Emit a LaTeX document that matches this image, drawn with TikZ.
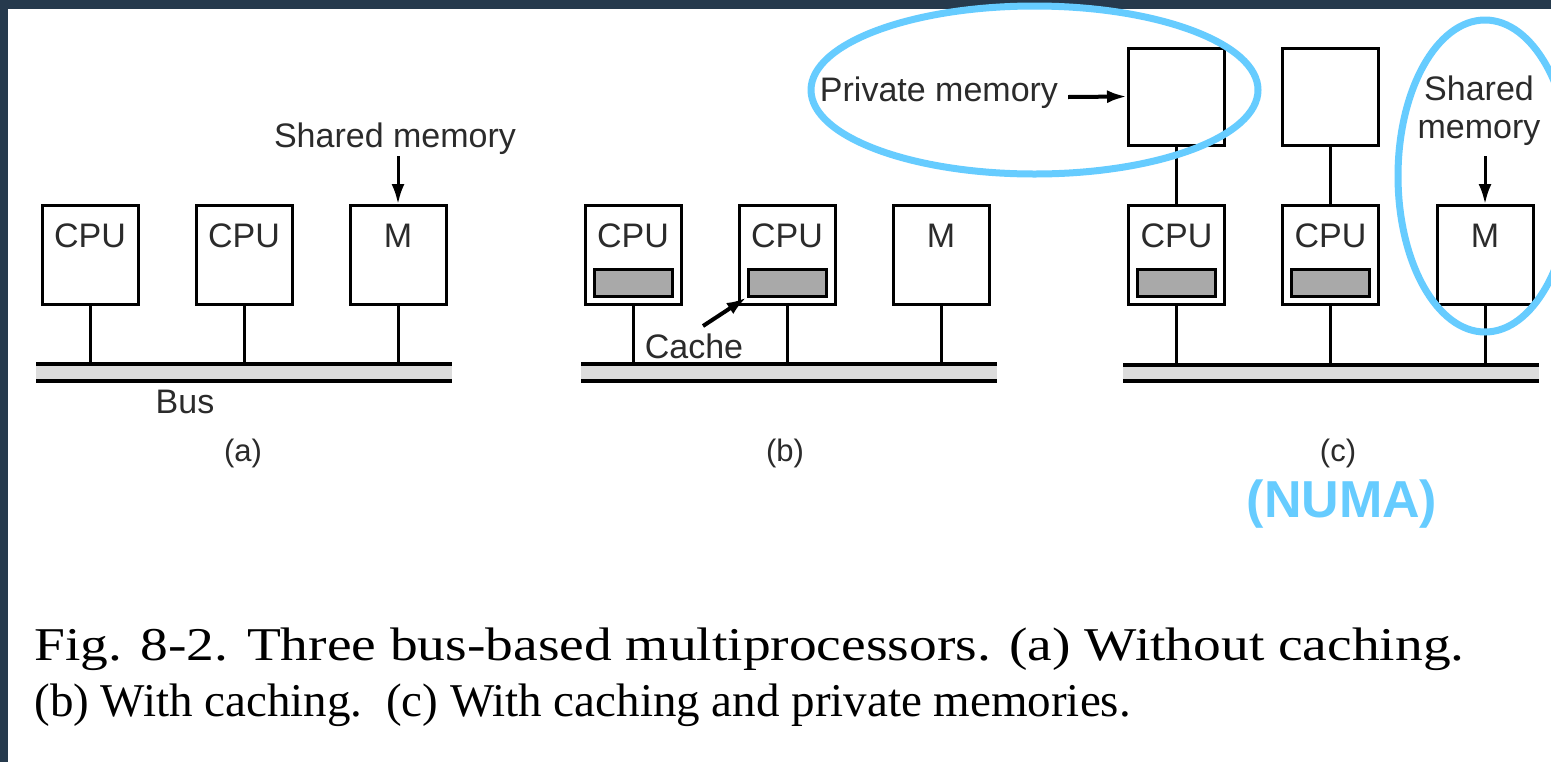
\documentclass[tikz,border=0pt]{standalone}
\usepackage{fontspec}
\setmainfont{Liberation Serif}
\setsansfont{Liberation Sans}
\usetikzlibrary{arrows.meta}

\definecolor{framebg}{HTML}{263A4D}
\definecolor{hilite}{HTML}{66CCFF}
\definecolor{ink}{HTML}{2B2B2B}
\definecolor{busfill}{HTML}{DCDCDC}
\definecolor{cachefill}{HTML}{A9A9A9}

\begin{document}
\begin{tikzpicture}[x=0.5pt,y=-0.5pt,
  unit/.style={draw=black, line width=1.5pt, fill=white, inner sep=0pt,
    minimum width=48pt, minimum height=49.5pt},
  privbox/.style={unit, minimum height=48.5pt},
  cachebox/.style={draw=black, line width=1.5pt, fill=cachefill, inner sep=0pt,
    minimum width=39pt, minimum height=13.5pt},
  lbl/.style={font=\sffamily\fontsize{17}{19}\selectfont, text=ink, inner sep=0pt},
  sublbl/.style={font=\sffamily\fontsize{15.5}{18}\selectfont, text=ink, inner sep=0pt, anchor=base},
  wire/.style={line width=1.5pt},
  busline/.style={line width=2pt},
  pointer/.style={line width=1.5pt, -{Latex[length=10pt,width=6.5pt]}},
  capt/.style={font=\fontsize{23.5}{30}\selectfont, text=black, inner sep=0pt, anchor=base west},
  ring/.style={draw=hilite, line width=3.5pt}
]
% page frame: dark edge at top and left, white sheet
\useasboundingbox (0,0) rectangle (1551,762);
\fill[framebg] (0,0) rectangle (1551,762);
\fill[white] (8,9) rectangle (1551,762);

% ---------- (a) without caching ----------
\fill[busfill] (36,364) rectangle (452,381);
\draw[busline] (36,364) -- (452,364);
\draw[busline] (36,381) -- (452,381);
\coordinate (busa) at (36,364);

\node[unit] (cpua1) at (90,255) {};
\node[unit] (cpua2) at (244,255) {};
\node[unit] (mema)  at (398,255) {};
\node[lbl, anchor=base] (cpua1t) at (90,247) {CPU};
\node[lbl, anchor=base] (cpua2t) at (244,247) {CPU};
\node[lbl, anchor=base] (memat)  at (398,247) {M};
\foreach \n in {cpua1,cpua2,mema}
  \draw[wire] (\n.south) -- (\n.south |- busa);

\node[lbl, anchor=base] (sharedA) at (395,147) {Shared memory};
\coordinate (sharedAtail) at (398,156);
\draw[pointer] (sharedAtail) -- (mema.north);
\node[lbl, anchor=base] (buslbl) at (185,413) {Bus};
\node[sublbl] (suba) at (243,461) {(a)};

% ---------- (b) with caching ----------
\fill[busfill] (581,364) rectangle (997,381);
\draw[busline] (581,364) -- (997,364);
\draw[busline] (581,381) -- (997,381);
\coordinate (busb) at (581,364);

\node[unit] (cpub1) at (633,255) {};
\node[unit] (cpub2) at (787,255) {};
\node[unit] (memb)  at (941,255) {};
\node[cachebox] (cacheb1) at (633,282.5) {};
\node[cachebox] (cacheb2) at (787,282.5) {};
\node[lbl, anchor=base] (cpub1t) at (633,247) {CPU};
\node[lbl, anchor=base] (cpub2t) at (787,247) {CPU};
\node[lbl, anchor=base] (membt)  at (941,247) {M};
\foreach \n in {cpub1,cpub2,memb}
  \draw[wire] (\n.south) -- (\n.south |- busb);

\node[lbl, anchor=base, fill=white, inner sep=1pt] (cachelbl) at (694,358) {Cache};
\coordinate (cachetail) at (703,326);
\draw[pointer, line width=2pt] (cachetail) -- (cacheb2.south west);
\node[sublbl] (subb) at (785,461) {(b)};

% ---------- (c) with caching and private memories ----------
\fill[busfill] (1123,365) rectangle (1539,381);
\draw[busline] (1123,365) -- (1539,365);
\draw[busline] (1123,381) -- (1539,381);
\coordinate (busc) at (1123,365);

\node[privbox] (privc1) at (1176.5,96.5) {};
\node[privbox] (privc2) at (1330.5,96.5) {};
\node[unit] (cpuc1) at (1176.5,255) {};
\node[unit] (cpuc2) at (1330.5,255) {};
\node[unit] (memc)  at (1485,255) {};
\node[cachebox] (cachec1) at (1176.5,282.5) {};
\node[cachebox] (cachec2) at (1330.5,282.5) {};
\node[lbl, anchor=base] (cpuc1t) at (1176.5,247) {CPU};
\node[lbl, anchor=base] (cpuc2t) at (1330.5,247) {CPU};
\node[lbl, anchor=base] (memct)  at (1485,247) {M};
\draw[wire] (privc1.south) -- (cpuc1.north);
\draw[wire] (privc2.south) -- (cpuc2.north);
\foreach \n in {cpuc1,cpuc2,memc}
  \draw[wire] (\n.south) -- (\n.south |- busc);

\node[lbl, anchor=base] (privlbl) at (939,101) {Private memory};
\coordinate (privtail) at (1068,97);
\draw[pointer, line width=2pt] (privtail) -- (privc1.west);
\node[lbl, anchor=base] (sharedC1) at (1479,100) {Shared};
\node[lbl, anchor=base] (sharedC2) at (1479,138) {memory};
\coordinate (sharedCtail) at (1485,156);
\draw[pointer] (sharedCtail) -- (memc.north);
\node[sublbl] (subc) at (1338,461) {(c)};
\node[font=\sffamily\bfseries\fontsize{26}{30}\selectfont, text=hilite, inner sep=0pt, anchor=base]
  (numa) at (1342,517) {(NUMA)};

% highlight rings
\begin{scope}
  \clip (0,0) rectangle (1551,762);
  \draw[ring] (1034.5,90) ellipse [x radius=111.75pt, y radius=42pt];
  \draw[ring] (1485,176) ellipse [x radius=43.5pt, y radius=78pt];
\end{scope}

% ---------- caption ----------
\node[capt, xscale=1.18] (cap1) at (34,660) {Fig. 8-2. Three bus-based multiprocessors. (a) Without caching.};
\node[capt] (cap2) at (34,716) {(b) With caching.\ \ (c) With caching and private memories.};
\end{tikzpicture}
\end{document}
